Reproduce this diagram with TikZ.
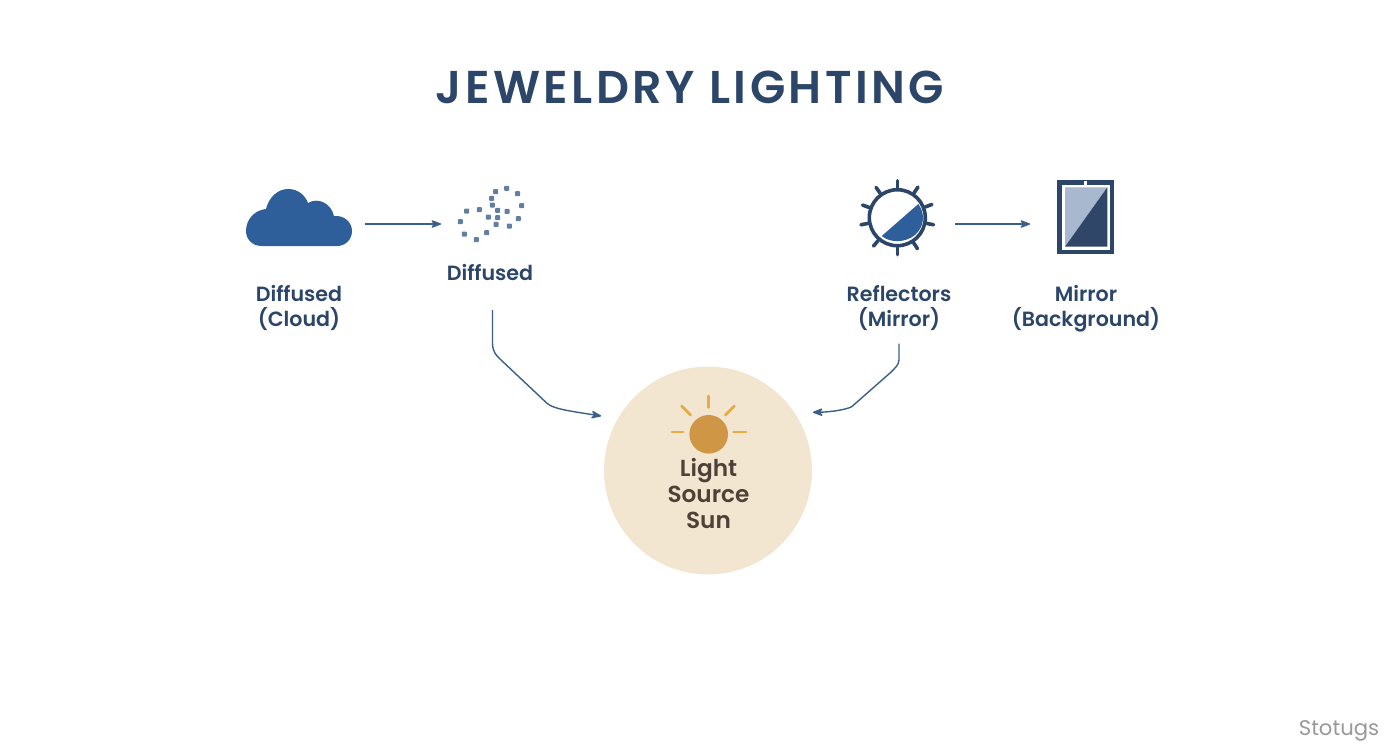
\documentclass[tikz,border=0pt]{standalone}
\usepackage{fontspec}
\setmainfont{Poppins}[BoldFont=* SemiBold]
\newfontfamily\headfont{Poppins}[BoldFont=* SemiBold,LetterSpace=7.5]
\usepackage{xcolor}
\usetikzlibrary{arrows.meta, positioning, calc}
\definecolor{inkblue}{HTML}{2B4669}
\definecolor{linkblue}{HTML}{3A5F88}
\definecolor{cloudblue}{HTML}{2F5F9A}
\definecolor{paleblue}{HTML}{A8B8CF}
\definecolor{mirrordark}{HTML}{2F4668}
\definecolor{sunpale}{HTML}{F2E6D0}
\definecolor{sundisc}{HTML}{CF9645}
\definecolor{sunray}{HTML}{E6AC45}
\definecolor{sunink}{HTML}{4E4238}

\begin{document}
\begin{tikzpicture}[x=0.5pt,y=-0.5pt,>={Stealth[round]},
        every node/.style={font=\bfseries,align=center,text=inkblue},
        title/.style={font=\fontsize{23}{26}\selectfont\headfont\bfseries},
        caption/.style={font=\fontsize{10.3}{12.5}\selectfont\bfseries},
        suncaption/.style={font=\fontsize{11.6}{13}\selectfont\bfseries,text=sunink},
        iconbox/.style={minimum height=20pt,inner sep=0pt,outer sep=0pt},
        link/.style={->,draw=linkblue,line width=0.7pt},
        speck/.style={fill=linkblue!80,rounded corners=0.4pt},
        spike/.style={draw=inkblue,line width=1.8pt,line cap=round},
        ray/.style={draw=sunray,line width=1.4pt,line cap=round}]

        \useasboundingbox (0,0) rectangle (1392,752);

        \node[title] (heading) at (690,87) {JEWELDRY LIGHTING};

        % icon places, the arrows end on these
        \node[iconbox,minimum width=66pt] (cloud) at (299,224) {};
        \node[iconbox,minimum width=50pt] (specks) at (491,224) {};
        \node[iconbox,minimum width=58pt] (reflector) at (897,224) {};
        \node[iconbox,minimum width=56pt] (mirror) at (1086,224) {};

        \fill[cloudblue] (262,246) .. controls (252,246) and (246,239) .. (246,231)
            .. controls (246,219) and (255,210) .. (266,209)
            .. controls (269,197) and (278,189) .. (288,189)
            .. controls (298,189) and (305,195) .. (308,203)
            .. controls (318,197) and (331,203) .. (334,216)
            .. controls (345,215) and (352,223) .. (352,231)
            .. controls (352,240) and (345,246) .. (337,246) -- cycle;

        \foreach \px/\py in {506.7/188.3,495.7/191.7,517.7/193.7,491.7/198.3,492.3/205,
                521.7/205.7,497.7/210.3,507/211.3,466.7/211,479.3/209.7,488.3/217,
                497.7/217.7,518.3/218.7,460.3/221.7,496/224.3,509.3/226,464.3/234,
                486.7/232.7,476.3/239.7}
            \fill[speck] (\px-2.5,\py-2.5) rectangle (\px+2.5,\py+2.5);

        % reflector wheel
        \fill[cloudblue] (881.7,236) -- (918.3,204) .. controls (925,213) and (925,226) .. (915,235)
            .. controls (905,243) and (890,243) .. cycle;
        \draw[inkblue,line width=1.8pt] (897.3,217.7) circle (28);
        \foreach \ang in {90,57,11,-21,-56,-90,-125,-160,169,130}
            \draw[spike] ($(897.3,217.7)+(\ang:30)$) -- ($(897.3,217.7)+(\ang:37)$);

        % mirror
        \fill[inkblue] (1057.3,180) rectangle (1114.3,254);
        \fill[white] (1062,184.5) rectangle (1110,250);
        \fill[paleblue] (1065,187.3) -- (1107.3,187.3) -- (1065,246.7) -- cycle;
        \fill[mirrordark] (1107.3,187.3) -- (1107.3,246.7) -- (1065,246.7) -- cycle;
        \fill[white] (1084,181) rectangle (1087,184.5);

        \draw[link] (cloud) -- (specks);
        \draw[link] (reflector) -- (mirror);

        \node[caption] (cloudcap) at (299,308) {Diffused\\(Cloud)};
        \node[caption] (speckcap) at (490,273) {Diffused};
        \node[caption] (reflectorcap) at (899,308) {Reflectors\\(Mirror)};
        \node[caption] (mirrorcap) at (1086,309) {Mirror\\(Background)};

        % sun
        \node[circle,fill=sunpale,minimum size=104pt,inner sep=0pt,outer sep=8pt] (sunbg) at (708,470.5) {};
        \fill[sundisc] (708.7,434.3) circle (19.3);
        \draw[ray] (708.5,396) -- (708.5,407.5);
        \draw[ray] (672,432) -- (683,432);
        \draw[ray] (733.5,432) -- (746,432);
        \draw[ray] (681.7,406) -- (690.7,415);
        \draw[ray] (734.3,406) -- (725.3,415);
        \node[suncaption] (suncap) at (708.5,493) {Light\\Source\\Sun};

        \draw[link,shorten <=11pt] (speckcap.south) ++(2.5,0) -- ++(0,55)
            .. controls (492.7,352) and (496,355) .. (500,359)
            -- (546.7,403) .. controls (553,409) and (570,411) .. (sunbg.153);
        \draw[link,shorten <=3pt] (reflectorcap.south) -- ++(0,22)
            .. controls (899,365) and (895,368) .. (890,373)
            -- (851.7,406.7) .. controls (845,410) and (830,412) .. (sunbg.29);

        \node[font=\fontsize{10.6}{12}\selectfont,text=black!40] (stamp) at (1339,731) {Stotugs};
    \end{tikzpicture}
\end{document}
